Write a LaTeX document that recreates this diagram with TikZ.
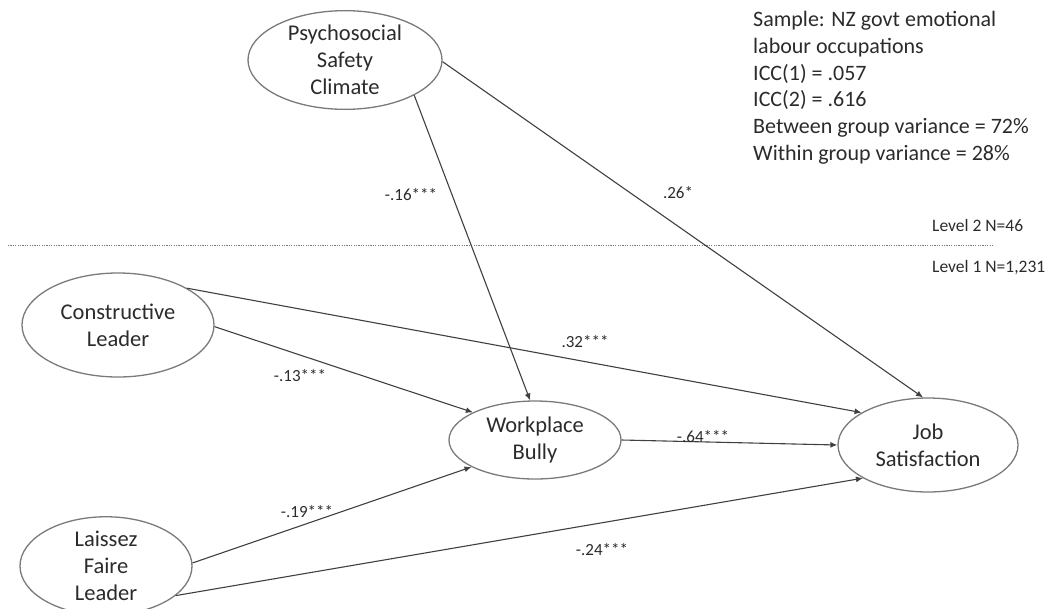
\documentclass[tikz,border=0pt]{standalone}
\usepackage{fontspec}
\setmainfont{Carlito}
\usetikzlibrary{shapes.geometric,arrows.meta}
\definecolor{ink}{HTML}{2B2B2B}
\definecolor{rim}{HTML}{7A7A7A}
\definecolor{wire}{HTML}{404040}
\begin{document}
\begin{tikzpicture}[x=1pt,y=-1pt,
  construct/.style={ellipse,draw=rim,line width=1.3pt,inner sep=0pt,align=center,
    text=ink,font=\fontsize{22.5}{27}\selectfont},
  path/.style={draw=wire,line width=1.1pt,-{Latex[length=7pt,width=6pt]}},
  coef/.style={text=ink,font=\fontsize{17}{20}\selectfont,inner sep=0pt},
  note/.style={text=ink,font=\fontsize{17.5}{20}\selectfont,inner sep=0pt,anchor=west}]
\path[use as bounding box] (0,0) rectangle (1054,608);

% latent constructs
\node[construct,minimum width=194pt,minimum height=96pt] (psc) at (345,60) {Psychosocial\\Safety\\Climate};
\node[construct,minimum width=192pt,minimum height=104pt] (cl) at (118,325) {Constructive\\Leader};
\node[construct,minimum width=172pt,minimum height=78pt] (wb) at (535,440) {Workplace\\Bully};
\node[construct,minimum width=180pt,minimum height=94pt] (js) at (928,445) {Job\\Satisfaction};
\node[construct,minimum width=172pt,minimum height=78pt] (lf) at (106,566) {Laissez\\Faire\\Leader};

% level separator
\draw[draw=rim,line width=0.9pt,dash pattern=on 1.2pt off 1.2pt] (8,245) -- (993,245);
\node[note] (l2) at (932,225) {Level 2 N=46};
\node[note] (l1) at (932,268) {Level 1 N=1,231};

% sample information
\node[anchor=north west,align=left,inner sep=0pt,text=ink,
  font=\fontsize{22}{26.8}\selectfont] (info) at (753,11)
  {Sample: NZ govt emotional\\labour occupations\\ICC(1) = .057\\ICC(2) = .616\\
   Between group variance = 72\%\\Within group variance = 28\%};

% structural paths
\draw[path] (psc.-27) -- (wb.97);
\draw[path] (psc.-1) -- (js.96);
\draw[path] (cl.28) -- (js.154);
\draw[path] (cl.-1) -- (wb.156.6);
\draw[path] (wb.0) -- (js.180);
\draw[path] (lf.2) -- (wb.203.4);
\draw[path] (lf.-23) -- (js.207);

% path coefficients
\node[coef] (c1) at (411,195) {-.16***};
\node[coef] (c2) at (678,193) {.26*};
\node[coef] (c3) at (585,342) {.32***};
\node[coef] (c4) at (300,376) {-.13***};
\node[coef] (c5) at (703,437) {-.64***};
\node[coef] (c6) at (307,512) {-.19***};
\node[coef] (c7) at (602,550) {-.24***};
\end{tikzpicture}
\end{document}
